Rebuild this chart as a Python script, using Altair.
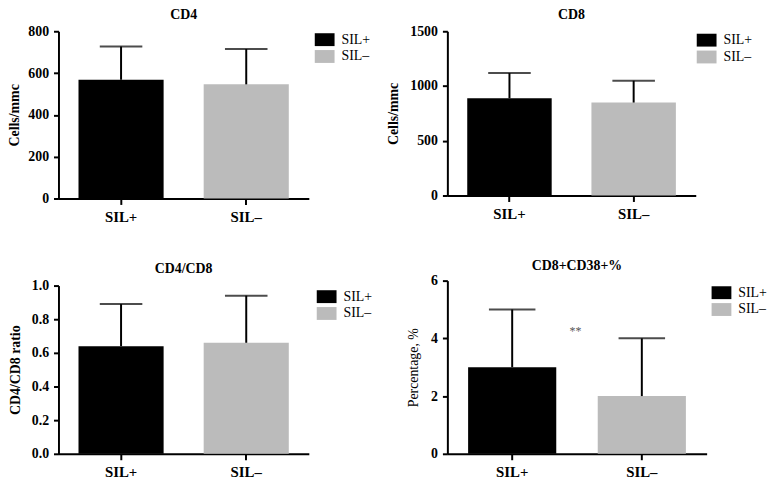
import altair as alt
import pandas as pd

groups = ["SIL+", "SIL–"]
colors = ["#000000", "#bbbbbb"]

cd4_mean = [568, 546]
cd4_sd = [159, 169]
cd8_mean = [888, 849]
cd8_sd = [230, 199]
ratio_mean = [0.64, 0.66]
ratio_sd = [0.25, 0.28]
cd38_mean = [3.0, 2.0]
cd38_sd = [2.0, 2.0]

cd4_ticks = [0, 200, 400, 600, 800]
cd8_ticks = [0, 500, 1000, 1500]
ratio_ticks = [0, 0.2, 0.4, 0.6, 0.8, 1.0]
cd38_ticks = [0, 2, 4, 6]

sig_group = ["SIL+"]
sig_label = ["**"]
sig_y = [4.25]

FONT = "Liberation Serif"


def panel(title, ytitle, means, sds, ticks, fmt, width, height, title_offset,
          ytitle_pad, ytitle_weight, leg_x, leg_y, cap, annot=False):
    df = pd.DataFrame({
        "group": groups,
        "mean": means,
        "upper": [m + s for m, s in zip(means, sds)],
    })
    base = alt.Chart(df)
    xscale = alt.Scale(domain=groups, paddingInner=0.32, paddingOuter=0.16)
    x = alt.X(
        "group:N", sort=groups, scale=xscale,
        axis=alt.Axis(
            title=None, labelAngle=0, labelFont=FONT, labelFontSize=15,
            labelFontWeight="bold", labelColor="black", labelPadding=5,
            domainColor="black", domainWidth=2, tickColor="black",
            tickWidth=2, tickSize=6, grid=False,
        ),
    )
    y = alt.Y(
        "mean:Q",
        scale=alt.Scale(domain=[ticks[0], ticks[-1]], nice=False, zero=True),
        axis=alt.Axis(
            title=ytitle, values=ticks, tickCount=len(ticks), format=fmt,
            grid=False, labelOverlap=False,
            labelFont=FONT, labelFontSize=14, labelFontWeight="bold",
            labelColor="black", labelPadding=5,
            domainColor="black", domainWidth=2, tickColor="black",
            tickWidth=2, tickSize=5,
            titleFont=FONT, titleFontSize=14, titleFontWeight=ytitle_weight,
            titleColor="black", titlePadding=ytitle_pad,
            minExtent=25, maxExtent=25,
        ),
    )
    bars = base.mark_bar().encode(
        x=x, y=y,
        color=alt.Color(
            "group:N",
            scale=alt.Scale(domain=groups, range=colors),
            legend=alt.Legend(
                title=None, orient="none", legendX=leg_x, legendY=leg_y,
                symbolType="M-1,-0.65H1V0.65H-1Z", symbolSize=400,
                symbolStrokeWidth=0, labelFont=FONT, labelFontSize=14,
                labelColor="black", labelOffset=7, rowPadding=0, padding=0,
            ),
        ),
    )
    err = base.mark_rule(color="black", strokeWidth=2).encode(
        x=alt.X("group:N", sort=groups), y="mean:Q", y2="upper:Q"
    )
    caps = base.mark_tick(color="black", thickness=2, size=cap).encode(
        x=alt.X("group:N", sort=groups), y="upper:Q"
    )
    layers = [bars, err, caps]
    if annot:
        adf = pd.DataFrame({"group": sig_group, "label": sig_label, "mean": sig_y})
        txt = alt.Chart(adf).mark_text(
            font=FONT, fontSize=12, color="#555555", dx=64, baseline="middle"
        ).encode(x=alt.X("group:N", sort=groups), y="mean:Q", text="label:N")
        layers.append(txt)
    return alt.layer(*layers).properties(
        width=width, height=height,
        title=alt.TitleParams(
            title, font=FONT, fontSize=14, fontWeight="bold", color="black",
            offset=title_offset, anchor="middle", frame="group",
        ),
    )


p1 = panel("CD4", "Cells/mmc", cd4_mean, cd4_sd, cd4_ticks, "d",
           253, 169, 2, 12, "bold", 259, -1.5, 43)
p2 = panel("CD8", "Cells/mmc", cd8_mean, cd8_sd, cd8_ticks, "d",
           251, 166, 2, 22, "bold", 252, -1, 43)
p3 = panel("CD4/CD8", "CD4/CD8 ratio", ratio_mean, ratio_sd, ratio_ticks, ".1f",
           253, 170, 3, 11, "bold", 261, 1.2, 43)
p4 = panel("CD8+CD38+%", "Percentage, %", cd38_mean, cd38_sd, cd38_ticks, "d",
           262, 175, 1, 2, "normal", 267, 2.2, 47, annot=True)

left = alt.vconcat(p1, p3, spacing=88, bounds="flush").resolve_scale(
    color="independent").resolve_legend(color="independent")
right = alt.vconcat(p2, p4, spacing=86, bounds="flush").resolve_scale(
    color="independent").resolve_legend(color="independent")

chart = (
    alt.hconcat(left, right, spacing=15)
    .resolve_scale(color="independent")
    .resolve_legend(color="independent")
    .properties(padding={"left": 0, "top": -2, "right": 0, "bottom": 0},
                background="white")
    .configure_view(stroke=None)
)

chart.save("out.html", embed_options={"renderer": "svg", "actions": False})
